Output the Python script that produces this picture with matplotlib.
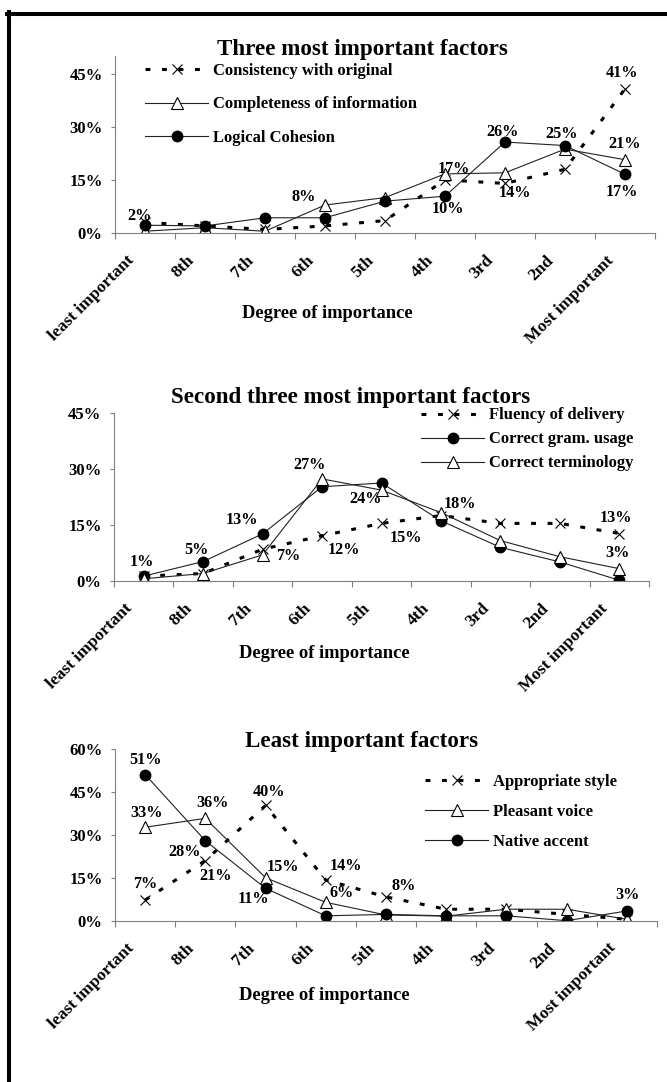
import matplotlib
matplotlib.use("Agg")
import numpy as np
import matplotlib.pyplot as plt
from matplotlib.lines import Line2D
from matplotlib.transforms import ScaledTranslation

plt.rcParams['font.family'] = ['Liberation Serif', 'DejaVu Serif']

W, H = 667, 1082

degrees = ['least important', '8th', '7th', '6th', '5th', '4th', '3rd', '2nd', 'Most important']

# chart 1 - three most important factors (%)
consistency = [3, 2, 1, 2, 3.5, 15, 14, 18, 40.7]
completeness = [0.5, 1.5, 0.5, 7.9, 10, 16.7, 17, 23.7, 20.7]
cohesion = [2.2, 2, 4.3, 4.3, 9, 10.4, 25.7, 24.7, 16.6]

# chart 2 - second three most important factors (%)
fluency = [1.3, 2, 8.5, 12.1, 15.4, 17.5, 15.4, 15.4, 12.7]
grammar = [1.3, 5.2, 12.6, 25.2, 26.2, 16.1, 9, 5.1, 0.2]
terminology = [0.6, 2, 7, 27.3, 24.3, 18.3, 10.8, 6.5, 3.3]

# chart 3 - least important factors (%)
style = [7.2, 21, 40.2, 14.2, 8.3, 4, 4, 2.2, 0.5]
voice = [32.6, 35.7, 15, 6.4, 2, 1.6, 4, 4, 0.5]
accent = [51, 27.9, 11.3, 1.7, 2.2, 1.7, 1.7, 0, 3.4]


def fx(x):
    return x / W


def fy(y):
    return 1 - y / H


dashed = dict(color='black', lw=2.2, dashes=(1.6, 3.8), marker='x', ms=6.5,
              mew=0.8, mec='black')
tri = dict(color='#222222', lw=0.8, marker='^', ms=8, mfc='white',
           mec='black', mew=0.8)
circ = dict(color='#222222', lw=0.8, marker='o', ms=7.5, mfc='black', mec='black')

fig = plt.figure(figsize=(W / 100, H / 100), dpi=100)
shift = ScaledTranslation(-8 / 100, 0, fig.dpi_scale_trans)


def setup(ax, ymax, yticks):
    ax.set_xlim(-0.5, 8.5)
    ax.set_ylim(0, ymax)
    for s in ['top', 'right']:
        ax.spines[s].set_visible(False)
    for s in ['left', 'bottom']:
        ax.spines[s].set_color('#808080')
        ax.spines[s].set_linewidth(0.8)
    ax.set_yticks(yticks)
    ax.set_yticklabels(['%d%%' % t for t in yticks], fontsize=12, fontweight='bold')
    ax.tick_params(axis='y', length=3, width=0.8, color='#808080', pad=6)
    ax.set_xticks(range(9))
    ax.set_xticklabels(degrees, rotation=45, ha='right', fontsize=12.5,
                       fontweight='bold')
    ax.tick_params(axis='x', which='major', length=0, pad=14)
    ax.set_xticks(np.arange(-0.5, 9), minor=True)
    ax.tick_params(axis='x', which='minor', length=4, width=0.8, color='#808080')
    for lab in ax.get_xticklabels():
        lab.set_transform(lab.get_transform() + shift)


def labels(ax, series, marks):
    for k, i, dx, dy in marks:
        v = series[k][i]
        ax.annotate('%d%%' % round(v), (i, v), xytext=(dx, dy),
                    textcoords='offset pixels', ha='center', va='center',
                    fontsize=11.7, fontweight='bold')


def legend(ax, handles, x, y, spacing):
    ax.legend(handles=handles, loc='upper left', bbox_to_anchor=(fx(x), fy(y)),
              bbox_transform=fig.transFigure, frameon=False, borderpad=0,
              borderaxespad=0, handlelength=3.8, handletextpad=0.3,
              labelspacing=spacing, prop={'weight': 'bold', 'size': 12})


x = np.arange(9)

# ---- chart 1
ax1 = fig.add_axes([fx(115), fy(233), fx(655) - fx(115), (233 - 56) / H])
h1, = ax1.plot(x, consistency, label='Consistency with original', **dashed)
h2, = ax1.plot(x, completeness, label='Completeness of information', **tri)
h3, = ax1.plot(x, cohesion, label='Logical Cohesion', **circ)
setup(ax1, 50, [0, 15, 30, 45])
labels(ax1, [consistency, completeness, cohesion],
       [(2, 0, -5, 9), (1, 3, -21, 8), (2, 5, 3, -13), (1, 5, 9, 5),
        (2, 6, -2, 10), (0, 6, 10, -10), (2, 7, -3, 12), (0, 8, -3, 16),
        (1, 8, 0, 16), (2, 8, -3, -18)])
legend(ax1, [h1, h2, h3], 145, 63, 1.05)

# ---- chart 2
ax2 = fig.add_axes([fx(114), fy(581), fx(649) - fx(114), (581 - 412.7) / H])
g1, = ax2.plot(x, fluency, label='Fluency of delivery', **dashed)
g2, = ax2.plot(x, grammar, label='Correct gram. usage', **circ)
g3, = ax2.plot(x, terminology, label='Correct terminology', **tri)
setup(ax2, 45, [0, 15, 30, 45])
labels(ax2, [fluency, grammar, terminology],
       [(1, 0, -2, 14), (1, 1, -7, 12), (1, 2, -21, 14), (2, 2, 26, -1),
        (2, 3, -12, 14), (0, 3, 22, -14), (2, 4, -16, -9), (0, 4, 24, -15),
        (2, 5, 19, 9), (0, 8, -3, 16), (2, 8, -2, 16)])
legend(ax2, [g1, g2, g3], 421, 407.5, 0.48)

# ---- chart 3
ax3 = fig.add_axes([fx(115), fy(920.7), fx(657) - fx(115), (920.7 - 748.7) / H])
k1, = ax3.plot(x, style, label='Appropriate style', **dashed)
k2, = ax3.plot(x, voice, label='Pleasant voice', **tri)
k3, = ax3.plot(x, accent, label='Native accent', **circ)
setup(ax3, 60, [0, 15, 30, 45, 60])
labels(ax3, [style, voice, accent],
       [(2, 0, 0, 15), (1, 0, 1, 14), (1, 1, 7, 15), (0, 2, 3, 13),
        (2, 1, -21, -11), (0, 1, 10, -15), (0, 0, 0, 16), (1, 2, 17, 11),
        (2, 2, -12, -11), (0, 3, 20, 14), (1, 3, 16, 9), (0, 4, 18, 11),
        (2, 8, 1, 16)])
legend(ax3, [k1, k2, k3], 425, 773.5, 0.84)

# titles and axis titles
title_kw = dict(ha='center', va='baseline', fontsize=16.6, fontweight='bold')
fig.text(fx(362.6), fy(55), 'Three most important factors', **title_kw)
fig.text(fx(351), fy(403.3), 'Second three most important factors', **title_kw)
fig.text(fx(362), fy(746.7), 'Least important factors', **title_kw)

xl_kw = dict(ha='center', va='center', fontsize=13.3, fontweight='bold')
fig.text(fx(327), fy(313), 'Degree of importance', **xl_kw)
fig.text(fx(324), fy(653), 'Degree of importance', **xl_kw)
fig.text(fx(324), fy(995), 'Degree of importance', **xl_kw)

# frame lines on the left and top
fig.add_artist(Line2D([fx(8.7), fx(8.7)], [fy(11.7), 0], transform=fig.transFigure,
                      color='black', lw=2.9))
fig.add_artist(Line2D([fx(6.7), 1], [fy(13.7), fy(13.7)], transform=fig.transFigure,
                      color='black', lw=2.9))

fig.savefig('out.png', dpi=100)
